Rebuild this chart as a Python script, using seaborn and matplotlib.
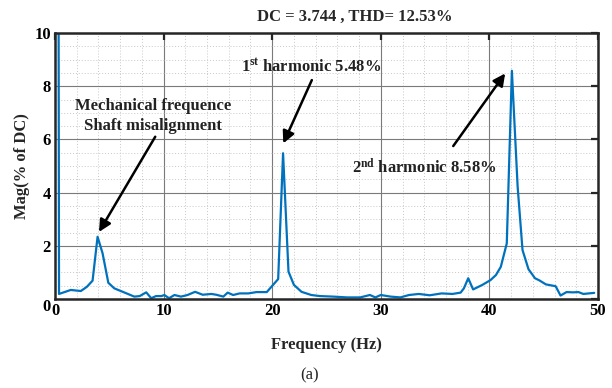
import matplotlib
matplotlib.use("Agg")
import matplotlib.pyplot as plt
import seaborn as sns
import pandas as pd
from matplotlib.ticker import MultipleLocator

freq = [0, 0.37, 1.45, 2.38, 2.94, 3.46, 3.92, 4.38, 4.91, 5.46, 6.24, 7.3, 7.8, 8.4, 8.86, 9.3, 9.8,
        10.07, 10.5, 11.0, 11.6, 12.2, 12.9, 13.6, 14.4, 14.85, 15.5, 15.9, 16.4, 17.0, 17.8, 18.55, 19.5,
        20.55, 21.0, 21.5, 22.0, 22.7, 23.6, 24.4, 25.6, 26.9, 28.1, 29.0, 29.5, 30.0, 30.9, 31.8, 32.6,
        33.5, 34.5, 35.6, 36.6, 37.35, 37.65, 38.05, 38.5, 39.35, 40.1, 40.6, 41.05, 41.6, 42.07, 42.6,
        43.05, 43.6, 44.2, 44.6, 45.2, 46.1, 46.55, 47.1, 47.7, 48.2, 48.65, 49.65]
mag = [100, 0.19, 0.34, 0.30, 0.46, 0.69, 2.34, 1.72, 0.61, 0.40, 0.27, 0.09, 0.11, 0.25, 0.03, 0.11, 0.11,
       0.15, 0.03, 0.15, 0.09, 0.15, 0.27, 0.16, 0.19, 0.16, 0.09, 0.24, 0.15, 0.21, 0.21, 0.26, 0.26,
       0.75, 5.48, 1.03, 0.53, 0.27, 0.15, 0.11, 0.09, 0.06, 0.06, 0.15, 0.06, 0.15, 0.09, 0.06, 0.15,
       0.19, 0.14, 0.21, 0.19, 0.24, 0.40, 0.78, 0.36, 0.53, 0.71, 0.90, 1.21, 2.09, 8.58, 4.22,
       1.84, 1.12, 0.78, 0.70, 0.55, 0.48, 0.13, 0.26, 0.25, 0.26, 0.19, 0.23]

title_text = "DC = 3.744 , THD= 12.53%"
xlabel_text = "Frequency (Hz)"
ylabel_text = "Mag(% of DC)"
caption_text = "(a)"
xticks = [0, 10, 20, 30, 40, 50]
yticks = [0, 2, 4, 6, 8, 10]

sns.set_style("white")
plt.rcParams['font.family'] = ['Liberation Serif', 'DejaVu Serif']
plt.rcParams['font.weight'] = 'bold'
plt.rcParams['mathtext.fontset'] = 'custom'
plt.rcParams['mathtext.rm'] = 'Liberation Serif:bold'
plt.rcParams['mathtext.bf'] = 'Liberation Serif:bold'
plt.rcParams['mathtext.it'] = 'Liberation Serif:bold'

df = pd.DataFrame({"Frequency": freq, "Mag": mag})

fig = plt.figure(figsize=(6.12, 3.88), dpi=100)
ax = fig.add_axes([55/612, 1-299/388, (598-55)/612, (299-33)/388])

sns.lineplot(data=df, x="Frequency", y="Mag", ax=ax, color="#0072BD", lw=1.6, sort=False, estimator=None)

ax.set_xlim(0, 50)
ax.set_ylim(0, 10)
ax.set_xticks(xticks)
ax.set_yticks(yticks)
ax.xaxis.set_minor_locator(MultipleLocator(2))
ax.yaxis.set_minor_locator(MultipleLocator(0.5))
ax.grid(which='major', color='#7a7a7a', lw=0.8, ls='-')
ax.grid(which='minor', color='#c8c8c8', lw=0.7, ls=(0, (1, 2)))
ax.set_axisbelow(True)
for s in ax.spines.values():
    s.set_linewidth(1.8)
    s.set_color('#262626')
ax.tick_params(which='major', direction='in', length=5, width=1.6, top=True, right=True,
               labelsize=12, pad=3, colors='#262626')
ax.tick_params(which='minor', length=0)
ax.set_xticklabels([str(t) for t in xticks], fontweight='bold', color='black')
ax.set_yticklabels([str(t) for t in yticks], fontweight='bold', color='black')
lbls = ax.get_yticklabels()
lbls[0].set_va('top')

ax.set_xlabel(xlabel_text, fontsize=12, fontweight='bold', labelpad=13)
ax.set_ylabel(ylabel_text, fontsize=12, fontweight='bold', labelpad=3)

fig.text(355/612, 1-17/388, title_text, ha='center', va='center', fontsize=12, fontweight='bold')
fig.text(310/612, 1-375/388, caption_text, ha='center', va='center', fontsize=12, fontweight='normal')

arrow_kw = dict(arrowstyle='-|>', lw=1.8, color='black', mutation_scale=18, shrinkA=0, shrinkB=0)
ax.annotate("", xy=(4.05, 2.52), xytext=(9.23, 6.1), arrowprops=arrow_kw)
ax.text(9.0, 6.88, "Mechanical frequence\nShaft misalignment", ha='center', va='center',
        fontsize=12, fontweight='bold', color='#222222', linespacing=1.4)

ax.annotate("", xy=(21.02, 5.85), xytext=(23.65, 8.23), arrowprops=arrow_kw)
ax.text(23.6, 8.75, r"1$^{\mathrm{st}}$ harmonic 5.48%", ha='center', va='center',
        fontsize=12, fontweight='bold', color='#222222')

ax.annotate("", xy=(41.45, 8.48), xytext=(36.67, 5.75), arrowprops=arrow_kw)
ax.text(34.0, 4.95, r"2$^{\mathrm{nd}}$ harmonic 8.58%", ha='center', va='center',
        fontsize=12, fontweight='bold', color='#222222')

fig.savefig("out.png", dpi=100)
